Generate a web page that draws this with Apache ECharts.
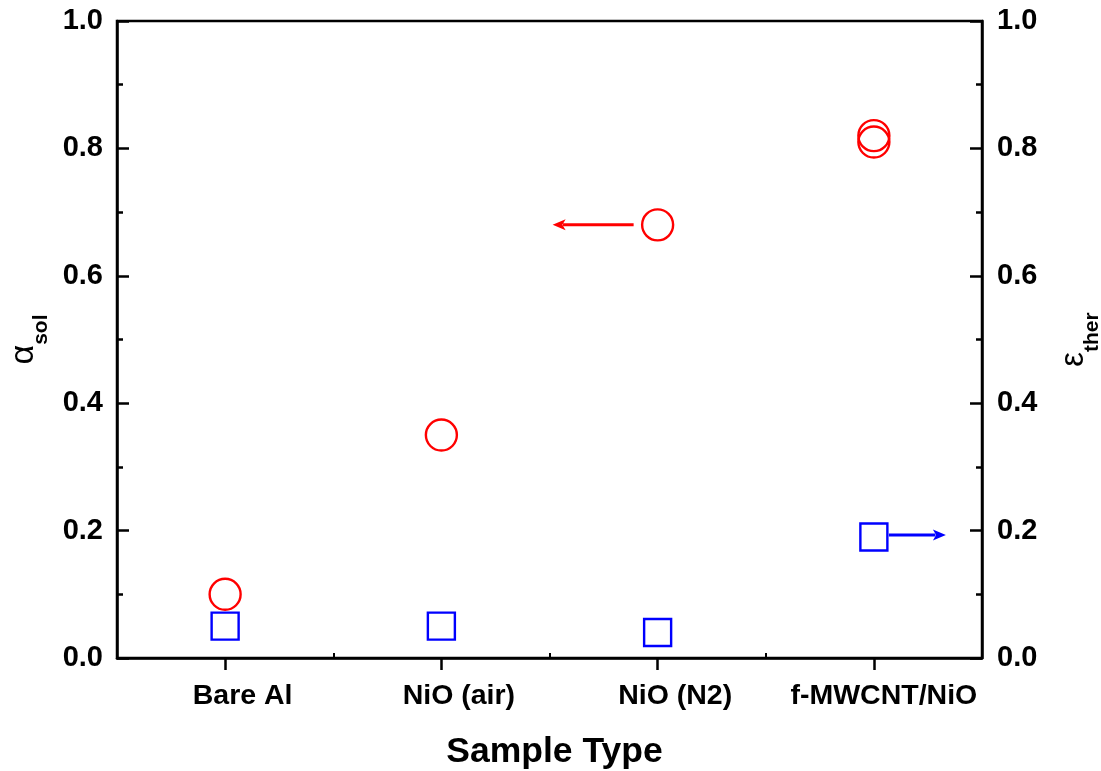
<!DOCTYPE html>
<html><head><meta charset="utf-8">
<script src="https://cdn.jsdelivr.net/npm/echarts@6/dist/echarts.min.js"></script>
<style>html,body{margin:0;padding:0;background:#fff;overflow:hidden}#c{width:1101px;height:771px}</style>
</head><body><div id="c"></div>
<script>
const categories = ['Bare Al', 'NiO (air)', 'NiO (N2)', 'f-MWCNT/NiO'];
const alphaSol = [['Bare Al', 0.10], ['NiO (air)', 0.35], ['NiO (N2)', 0.68], ['f-MWCNT/NiO', 0.82], ['f-MWCNT/NiO', 0.81]];
const epsTher = [['Bare Al', 0.05], ['NiO (air)', 0.05], ['NiO (N2)', 0.04], ['f-MWCNT/NiO', 0.19]];
const yTicks = [0, 0.2, 0.4, 0.6, 0.8, 1.0];

const FONT = 'Liberation Sans, Arial, sans-serif';
const chart = echarts.init(document.getElementById('c'));
const yCommon = {
  type: 'value', min: 0, max: 1, interval: 0.2,
  axisLine: { show: true, lineStyle: { color: '#000', width: 2.5 } },
  axisTick: { show: true, inside: true, length: 12, lineStyle: { color: '#000', width: 2.5 } },
  minorTick: { show: true, splitNumber: 2, length: 6, lineStyle: { color: '#000', width: 2.5 } },
  splitLine: { show: false },
  axisLabel: { fontFamily: FONT, fontWeight: 'bold', fontSize: 29, color: '#000', margin: 14,
    formatter: v => yTicks.some(t => Math.abs(t - v) < 1e-9) ? v.toFixed(1) : '' },
  nameLocation: 'middle', nameRotate: 90
};
const xLabelRich = {
  m: { fontFamily: FONT, fontWeight: 'bold', fontSize: 28.5, color: '#000', padding: [0, 0, 0, 35] },
  e: { fontFamily: FONT, fontWeight: 'bold', fontSize: 28.5, color: '#000', padding: [0, 0, 0, 20] }
};
chart.setOption({
  animation: false,
  grid: { left: 117, right: 119, top: 21, bottom: 113, containLabel: false, outerBoundsMode: 'none',
    show: true, borderColor: '#000', borderWidth: 2.5, backgroundColor: 'transparent' },
  xAxis: [{
    type: 'category', data: categories, boundaryGap: true,
    axisLine: { show: true, lineStyle: { color: '#000', width: 2.5 } },
    axisTick: { show: true, alignWithLabel: true, interval: 0, inside: false, length: 12, lineStyle: { color: '#000', width: 2.5 } },
    axisLabel: { interval: 0, margin: 24, rich: xLabelRich,
      formatter: (v, i) => (i === categories.length - 1 ? '{e|' : '{m|') + v + '}' },
    name: 'Sample Type', nameLocation: 'middle', nameGap: 76,
    nameTextStyle: { fontFamily: FONT, fontWeight: 'bold', fontSize: 35.5, color: '#000', padding: [0, 0, 0, 10] }
  }, {
    type: 'category', data: categories, boundaryGap: true, position: 'bottom',
    axisLine: { show: false },
    axisTick: { show: true, interval: 0, inside: true, length: 5, lineStyle: { color: '#000', width: 2 } },
    axisLabel: { show: false }
  }],
  yAxis: [Object.assign({}, yCommon, {
    position: 'left',
    name: '{a|α}{s|sol}', nameGap: 59,
    nameTextStyle: { rich: {
      a: { fontFamily: FONT, fontSize: 34, color: '#000', padding: [0, 0, 17, 0] },
      s: { fontFamily: FONT, fontWeight: 'bold', fontSize: 21, color: '#000', padding: [17, 0, 0, 0] }
    } }
  }), Object.assign({}, yCommon, {
    position: 'right',
    axisLabel: Object.assign({}, yCommon.axisLabel, { margin: 15 }),
    name: '{a|ε}{s|ther}', nameGap: 75, nameRotate: 90,
    nameTextStyle: { rich: {
      a: { fontFamily: FONT, fontSize: 33, color: '#000', padding: [0, 0, 19, 0] },
      s: { fontFamily: FONT, fontWeight: 'bold', fontSize: 21, color: '#000', padding: [19, 0, 0, 0] }
    } }
  })],
  series: [{
    type: 'scatter', xAxisIndex: 0, yAxisIndex: 0, data: alphaSol,
    symbol: 'circle', symbolSize: 31,
    itemStyle: { color: 'rgba(0,0,0,0)', borderColor: '#ff0000', borderWidth: 2.4, opacity: 1 }
  }, {
    type: 'scatter', xAxisIndex: 0, yAxisIndex: 1, data: epsTher,
    symbol: 'rect', symbolSize: 27,
    itemStyle: { color: 'rgba(0,0,0,0)', borderColor: '#0000ff', borderWidth: 2.4, opacity: 1 }
  }]
});

function arrow(from, to, color) {
  const dx = to[0] - from[0], dir = dx > 0 ? 1 : -1, hl = 13, hw = 5.5;
  return [{
    type: 'line', shape: { x1: from[0], y1: from[1], x2: to[0] - dir * hl * 0.8, y2: to[1] },
    style: { stroke: color, lineWidth: 3 }, z: 100
  }, {
    type: 'polygon', shape: { points: [[to[0], to[1]], [to[0] - dir * hl, to[1] - hw], [to[0] - dir * hl * 0.75, to[1]], [to[0] - dir * hl, to[1] + hw]] },
    style: { fill: color }, z: 100
  }];
}
const pR = chart.convertToPixel({ xAxisIndex: 0, yAxisIndex: 0 }, ['NiO (N2)', 0.68]);
const pB = chart.convertToPixel({ xAxisIndex: 0, yAxisIndex: 1 }, ['f-MWCNT/NiO', 0.19]);
chart.setOption({ graphic: [].concat(
  arrow([pR[0] - 24, pR[1]], [pR[0] - 105, pR[1]], '#ff0000'),
  arrow([pB[0] + 15, pB[1] - 2], [pB[0] + 72, pB[1] - 2], '#0000ff')
) });
</script></body></html>
